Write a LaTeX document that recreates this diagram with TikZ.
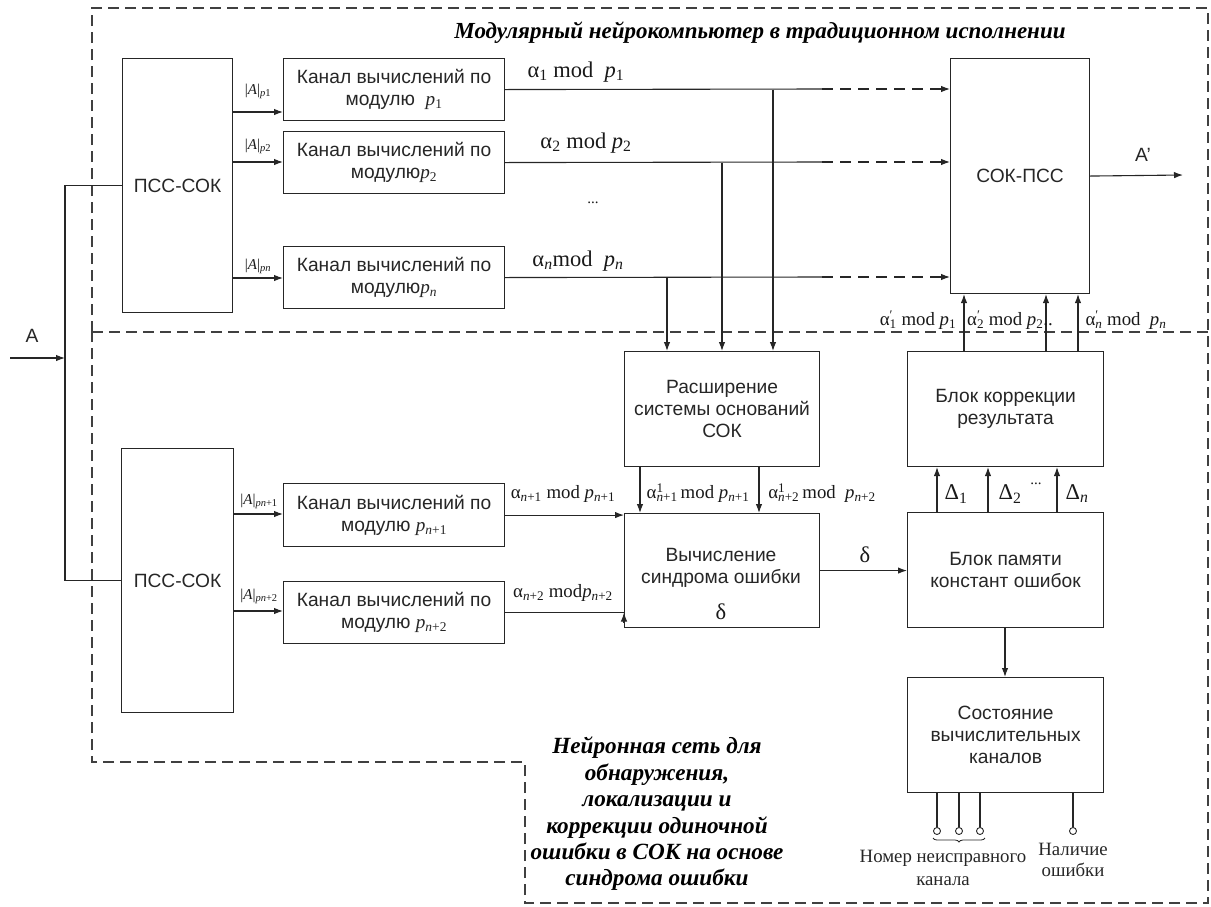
\documentclass[tikz,border=0pt]{standalone}
\usepackage{fontspec}
\setsansfont{Liberation Sans}
\newfontfamily\tms{Liberation Serif}
\usetikzlibrary{arrows.meta,decorations.pathreplacing,calc}
% residue notation in serif text
\newcommand\pv[1]{\textit{p}\textsubscript{#1}}
\newcommand\alv[1]{α\textsubscript{#1}}
\newcommand\alss[2]{α\rlap{\textsuperscript{#1}}\textsubscript{#2}}
\newcommand\nn{\textit{n}}

\begin{document}
\begin{tikzpicture}[x=1pt,y=-1pt,
  ln/.style={line width=1.1pt, draw=black!85},
  arr/.style={ln,-{Latex[length=9pt,width=6.5pt]}},
  blk/.style={ln, rectangle, anchor=north west, inner sep=0pt, align=center,
    font=\sffamily\fontsize{19.2}{22}\selectfont, text=black!85},
  txt/.style={align=center, inner sep=0pt, font=\sffamily\fontsize{19.2}{22}\selectfont, text=black!85},
  frame/.style={line width=1.2pt, draw=black!75, dash pattern=on 11pt off 6pt},
  dsh/.style={arr, dash pattern=on 11pt off 7pt},
  ml/.style={font=\tms\fontsize{22.5}{24}\selectfont, inner sep=0pt, text=black!90},
  mls/.style={font=\tms\fontsize{18.8}{20}\selectfont, inner sep=0pt, text=black!90},
  sl/.style={font=\tms\fontsize{15}{16}\selectfont, inner sep=0pt, text=black!90},
  pin/.style={circle, draw=black!85, line width=0.9pt, minimum size=7pt, inner sep=0pt},
]
\useasboundingbox (0,0) rectangle (1211,906);

% dashed frames of the two sub-systems
\draw[frame] (92,332) -- (92,8) -- (1208,8) -- (1208,903) -- (525,903) -- (525,762) -- (92,762) -- cycle;
\draw[frame] (92,332) -- (1208,332);

\node[font=\tms\bfseries\itshape\fontsize{23}{26}\selectfont, inner sep=0pt] (title) at (760,33)
  {Модулярный нейрокомпьютер в традиционном исполнении};
\node[font=\tms\bfseries\itshape\fontsize{23.2}{26.4}\selectfont, align=center, inner sep=0pt] (nnet) at (657,814)
  {Нейронная сеть для\\обнаружения,\\локализации и\\коррекции одиночной\\ошибки в СОК на основе\\синдрома ошибки};

% blocks
\node[blk, minimum width=110, minimum height=254] (pss1) at (122,58) {ПСС-СОК};
\node[blk, minimum width=112, minimum height=264] (pss2) at (121,448) {ПСС-СОК};
\node[blk, minimum width=221, minimum height=62] (c1) at (283,58) {Канал вычислений по\\модулю ~{\tms\pv{1}}};
\node[blk, minimum width=221, minimum height=62] (c2) at (283,131) {Канал вычислений по\\модулю{\tms\pv{2}}};
\node[blk, minimum width=221, minimum height=62] (cn) at (283,246) {Канал вычислений по\\модулю{\tms\pv{\nn}}};
\node[blk, minimum width=221, minimum height=63] (c5) at (283,483) {Канал вычислений по\\модулю {\tms\pv{\nn+1}}};
\node[blk, minimum width=221, minimum height=62] (c6) at (283,581) {Канал вычислений по\\модулю {\tms\pv{\nn+2}}};
\node[blk, minimum width=139, minimum height=235] (sokpss) at (950,58) {СОК-ПСС};
\node[blk, minimum width=195, minimum height=115] (ext) at (624,351) {Расширение\\системы оснований\\СОК};
\node[blk, minimum width=195, minimum height=114] (synd) at (624,513) {};
\node[txt] (syndtxt) at (721,568) {Вычисление\\синдрома ошибки};
\node[ml] (syndd) at (721,612) {δ};
\node[blk, minimum width=196, minimum height=115] (corr) at (907,351) {Блок коррекции\\результата};
\node[blk, minimum width=196, minimum height=115] (mem) at (907,512) {Блок памяти\\констант ошибок};
\node[blk, minimum width=196, minimum height=115] (state) at (907,677) {Состояние\\вычислительных\\каналов};

% input A
\coordinate (ain) at (10,358);
\coordinate (bus) at (65,358);
\node[txt] (alab) at (32,336) {A};
\draw[arr] (ain) -- (bus);
\draw[ln] (pss1.west) -| (bus) |- (pss2.west);

% converter outputs
\draw[arr] (pss1.east |- 0,112) -- (c1.west |- 0,112);
\draw[arr] (pss1.east |- 0,162) -- (c2.west |- 0,162);
\draw[arr] (pss1.east |- 0,278) -- (cn.west |- 0,278);
\draw[arr] (pss2.east |- 0,514) -- (c5.west |- 0,514);
\draw[arr] (pss2.east |- 0,611) -- (c6.west |- 0,611);
\node[sl] (l1) at (258,91) {|\textit{A}|\textsubscript{\textit{p}1}};
\node[sl] (l2) at (258,146) {|\textit{A}|\textsubscript{\textit{p}2}};
\node[sl] (l3) at (258,266) {|\textit{A}|\textsubscript{\textit{pn}}};
\node[sl] (l4) at (259,501) {|\textit{A}|\textsubscript{\textit{pn}+1}};
\node[sl] (l5) at (259,596) {|\textit{A}|\textsubscript{\textit{pn}+2}};

% channel results to the reverse converter
\coordinate (d1) at (822,89);
\coordinate (d2) at (822,162);
\coordinate (d3) at (822,277);
\draw[ln] (c1.east) -- (d1);
\draw[ln] (c2.east) -- (d2);
\draw[ln] (cn.east) -- (d3);
\draw[dsh] (d1) -- (sokpss.west |- d1);
\draw[dsh] (d2) -- (sokpss.west |- d2);
\draw[dsh] (d3) -- (sokpss.west |- d3);
\node[ml] (a1) at (576,72) {\alv{1} mod \ \pv{1}};
\node[ml] (a2) at (586,143) {\alv{2} mod \pv{2}};
\node[ml] (an) at (578,261) {\alv{\nn}mod \ \pv{\nn}};
\node[sl] (dots1) at (593,203) {...};

% taps into the base extension
\draw[arr] (c1.east -| 773,0) -- (ext.north -| 773,0);
\draw[arr] (c2.east -| 722,0) -- (ext.north -| 722,0);
\draw[arr] (cn.east -| 667,0) -- (ext.north -| 667,0);

% extension to syndrome
\draw[arr] (ext.south -| 640,0) -- (synd.north -| 640,0);
\draw[arr] (ext.south -| 759,0) -- (synd.north -| 759,0);
\node[mls] (e1) at (698,493) {\alss{1}{\nn+1}\,mod \pv{\nn+1}};
\node[mls] (e2) at (822,493) {\alss{1}{\nn+2}\,mod \ \pv{\nn+2}};

% redundant channels to syndrome
\draw[arr] (c5.east) -- (synd.west |- c5.east);
\draw[ln] (c6.east) -- (synd.west |- c6.east);
\draw[arr] ($(synd.west |- c6.east)+(0,10)$) -- (synd.west |- c6.east);
\node[mls] (r1) at (563,494) {\alv{\nn+1} mod \pv{\nn+1}};
\node[mls] (r2) at (563,593) {\alv{\nn+2} mod\pv{\nn+2}};

% syndrome to constant memory
\draw[arr] (synd.east) -- (mem.west |- synd.east);
\node[ml] (dl) at (865,555) {δ};

% error constants to correction
\draw[arr] (mem.north -| 937,0) -- (corr.south -| 937,0);
\draw[arr] (mem.north -| 988,0) -- (corr.south -| 988,0);
\draw[arr] (mem.north -| 1057,0) -- (corr.south -| 1057,0);
\node[ml] (D1) at (956,494) {Δ\textsubscript{1}};
\node[ml] (D2) at (1010,494) {Δ\textsubscript{2}};
\node[sl] (D3) at (1036,484) {...};
\node[ml] (Dn) at (1077,494) {Δ\textsubscript{\nn}};

% corrected residues to the reverse converter
\draw[arr] (corr.north -| 964,0) -- (sokpss.south -| 964,0);
\draw[arr] (corr.north -| 1046,0) -- (sokpss.south -| 1046,0);
\draw[arr] (corr.north -| 1078,0) -- (sokpss.south -| 1078,0);
\node[mls] (k1) at (918,320) {\alss{′}{1} mod \pv{1}};
\node[mls] (k2) at (1010,320) {\alss{′}{2} mod \pv{2}..};
\node[mls] (kn) at (1126,320) {\alss{′}{\nn} mod \ \pv{\nn}};

% output A'
\coordinate (aout) at (1183,175);
\draw[arr] (sokpss.east) -- (aout);
\node[txt] (aplab) at (1143,155) {A'};

% channel state block and its pins
\draw[arr] (mem.south -| 1005,0) -- (state.north -| 1005,0);
\node[pin] (p1) at (937,831) {};
\node[pin] (p2) at (959,831) {};
\node[pin] (p3) at (980,831) {};
\node[pin] (p4) at (1073,831) {};
\foreach \p in {p1,p2,p3,p4} \draw[ln] (state.south -| \p.north) -- (\p.north);
\draw[ln, line width=0.8pt, decorate, decoration={brace, amplitude=4pt}] (985,838) -- (933,838);
\node[font=\tms\fontsize{18.8}{23}\selectfont, align=center, inner sep=0pt, text=black!85] (pn) at (943,868)
  {Номер неисправного\\канала};
\node[font=\tms\fontsize{18.8}{21}\selectfont, align=center, inner sep=0pt, text=black!85] (pe) at (1073,860)
  {Наличие\\ошибки};
\end{tikzpicture}
\end{document}
